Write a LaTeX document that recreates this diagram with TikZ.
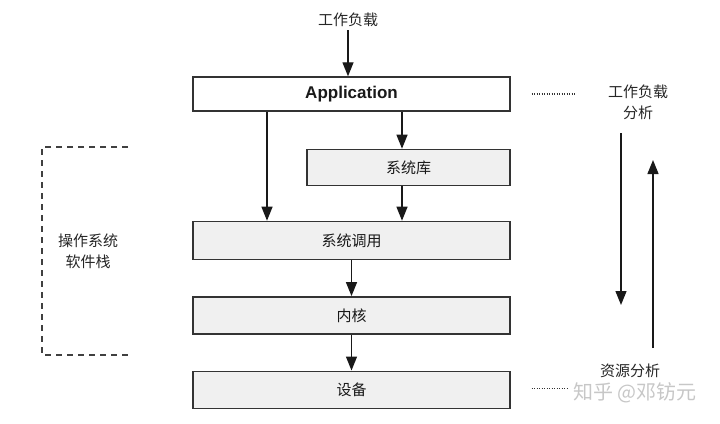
\documentclass[tikz,border=0pt]{standalone}
\usepackage{fontspec}
\setmainfont{Noto Sans CJK SC}
\newfontfamily\latinfont{Liberation Sans}
\usetikzlibrary{arrows.meta, positioning}

\begin{document}
\begin{tikzpicture}[
    x=1pt, y=-1pt,
    node distance=36pt,
    box/.style={draw=black!80, line width=1.4pt, rectangle, minimum width=317pt, minimum height=36pt, inner sep=0pt, fill=black!6, text=black!90, font=\fontsize{15}{18}\selectfont},
    arrow/.style={-{Triangle[length=14pt, width=11pt]}, line width=1.3pt, black!90},
    txt/.style={text=black!85, font=\fontsize{15}{21}\selectfont, align=center}
]
\useasboundingbox (0,0) rectangle (720,423);

% stack of layers
\node[box, fill=white, minimum height=34pt, font=\latinfont\bfseries\fontsize{17}{20}\selectfont] (app) at (351.5,94) {Application};
\node[box, minimum width=203pt, below=37pt of app.south east, anchor=north east] (lib) {系统库};
\node[box, minimum height=38pt, below=109pt of app] (syscall) {系统调用};
\node[box, minimum height=37pt, below=of syscall] (kernel) {内核};
\node[box, minimum height=37pt, below=of kernel] (device) {设备};

\node[txt] (load) at (348,20) {工作负载};
\draw[arrow] (load.south) -- (load.south |- app.north);
\draw[arrow] ([xshift=-84.5pt]app.south) -- ([xshift=-84.5pt]syscall.north);
\draw[arrow] ([xshift=-6.5pt]lib.north |- app.south) -- ([xshift=-6.5pt]lib.north);
\draw[arrow] ([xshift=-6.5pt]lib.south) -- ([xshift=-6.5pt]lib.south |- syscall.north);
\draw[arrow] (syscall) -- (kernel);
\draw[arrow] (kernel) -- (device);

% os software stack bracket
\draw[black!75, line width=1.3pt, dash pattern=on 6pt off 5pt] (128,147) -- (42,147) -- (42,355) -- (128,355);
\node[txt] (stack) at (88,251) {操作系统\\软件栈};

% analysis directions
\node[txt] (wla) at (638,102) {工作负载\\分析};
\node[txt] (res) at (630,371) {资源分析};
\draw[black!80, line width=1.2pt, dash pattern=on 1.2pt off 1.3pt] ([xshift=21pt]app.east) -- ([xshift=64pt]app.east);
\draw[black!80, line width=1.2pt, dash pattern=on 1.2pt off 1.3pt] ([xshift=21pt, yshift=1.5pt]device.east) -- ([xshift=57pt, yshift=1.5pt]device.east);
\coordinate (downtop) at (621,133);
\coordinate (downend) at (621,305);
\coordinate (upstart) at (653,348);
\coordinate (upend) at (653,160);
\draw[arrow] (downtop) -- (downend);
\draw[arrow] (upstart) -- (upend);

\node[text=black!22, font=\fontsize{20}{24}\selectfont] (mark) at (635,393) {知乎 @邓钫元};
\end{tikzpicture}
\end{document}
